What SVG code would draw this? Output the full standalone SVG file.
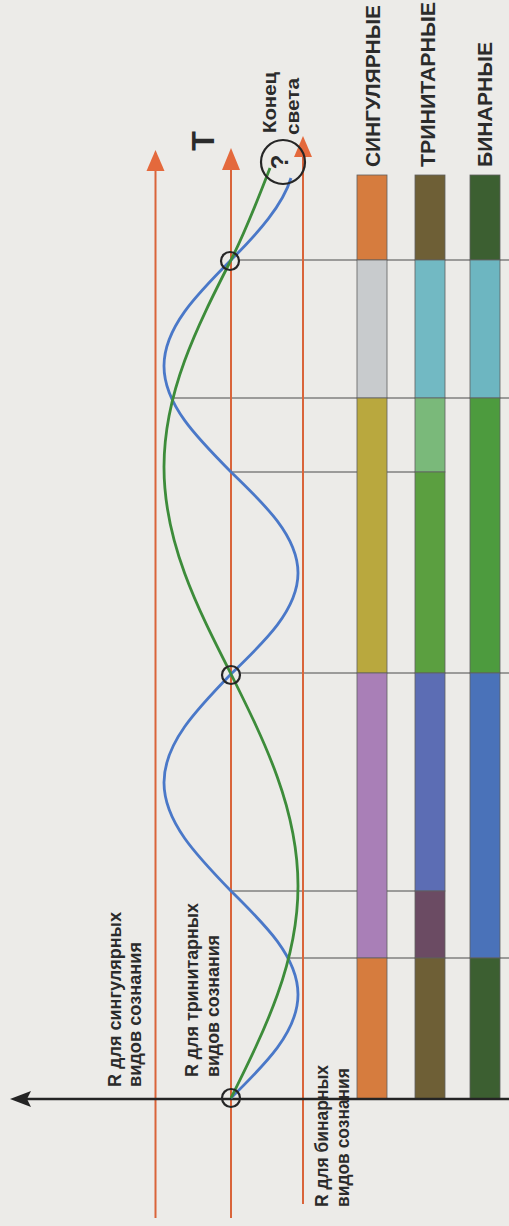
<svg xmlns="http://www.w3.org/2000/svg" width="509" height="1226" viewBox="0 0 509 1226">
<defs>
<style>
.lbl{font-family:"Liberation Sans",Arial,sans-serif;font-weight:bold;fill:#2b2b2b}
.rl{stroke:#d9643a;stroke-width:2;fill:none}
.ah{fill:#e4693c}
.div{stroke:#4a4a4a;stroke-width:1;fill:none}
.seg{stroke:#5f5f5f;stroke-width:0.8}
.ring{fill:none;stroke:#262626;stroke-width:2.2}
</style>
</defs>
<rect x="0" y="0" width="509" height="1226" fill="#ecebe8"/>

<g id="dividers">
<path class="div" d="M239 260H509M172 398H509M232 472H445M240 673H509M232 891H445M290 958H509"/>
</g>

<g id="r-lines">
<path class="rl" d="M155.5 165V1218" stroke="#d97a30"/>
<path class="rl" d="M231 165V1218"/>
<path class="rl" d="M303 152V1204" stroke="#dc6a34"/>
<polygon class="ah" points="155.5,150 146.5,171 164.5,171"/>
<polygon class="ah" points="231,148 222,170 240,170"/>
<polygon class="ah" points="303,136 294,157 312,157"/>
</g>

<g id="bar-singular">
<rect class="seg" x="357" y="175" width="30" height="85" fill="#d67c3e"/>
<rect class="seg" x="357" y="260" width="30" height="138" fill="#c8cbcd"/>
<rect class="seg" x="357" y="398" width="30" height="275" fill="#b9a83e"/>
<rect class="seg" x="357" y="673" width="30" height="285" fill="#a97fb7"/>
<rect class="seg" x="357" y="958" width="30" height="141" fill="#d67c3e"/>
</g>
<g id="bar-trinitarian">
<rect class="seg" x="415" y="175" width="30" height="85" fill="#6e5f36"/>
<rect class="seg" x="415" y="260" width="30" height="138" fill="#72b9c3"/>
<rect class="seg" x="415" y="398" width="30" height="74" fill="#7ab97a"/>
<rect class="seg" x="415" y="472" width="30" height="201" fill="#5b9f40"/>
<rect class="seg" x="415" y="673" width="30" height="218" fill="#5c6db4"/>
<rect class="seg" x="415" y="891" width="30" height="67" fill="#6b4b63"/>
<rect class="seg" x="415" y="958" width="30" height="141" fill="#6e5f36"/>
</g>
<g id="bar-binary">
<rect class="seg" x="470" y="175" width="30" height="85" fill="#3c5f31"/>
<rect class="seg" x="470" y="260" width="30" height="138" fill="#6db6c1"/>
<rect class="seg" x="470" y="398" width="30" height="275" fill="#4d9b3e"/>
<rect class="seg" x="470" y="673" width="30" height="285" fill="#4a72b9"/>
<rect class="seg" x="470" y="958" width="30" height="141" fill="#3c5f31"/>
</g>

<g id="axis">
<path d="M26 1099H509" stroke="#242424" stroke-width="2.6" fill="none"/>
<polygon points="10,1099 31,1091 27,1099 31,1107" fill="#242424"/>
</g>

<g id="curves">
<path id="blue-curve" fill="none" stroke="#4a78c8" stroke-width="2.8" d="M231 1098C265.3 1064.25 298 1031.96 298 994.5C298 957.04 265.3 924.75 231 891C196.7 855.62 164 821.77 164 782.5C164 743.23 196.7 709.38 231 674C265.3 641.06 298 609.55 298 573C298 536.45 265.3 504.94 231 472C196.7 437.43 164 404.36 164 366C164 327.64 196.7 294.57 231 260C258.8 232.3 282.9 204.7 291 178"/>
<path id="green-curve" fill="none" stroke="#3d8c3a" stroke-width="2.8" d="M231 1098C265.3 1028.87 298 962.72 298 886C298 809.28 265.3 743.13 231 674C196.7 606.5 164 541.91 164 467C164 392.09 196.7 327.5 231 260C246.6 229.3 258.1 198.7 270 168"/>
</g>

<g id="markers">
<circle class="ring" cx="231" cy="1098" r="9"/>
<circle class="ring" cx="231" cy="675" r="9"/>
<circle class="ring" cx="230" cy="261" r="9"/>
<circle class="ring" cx="283" cy="162" r="22" stroke-width="2.4"/>
<text class="lbl" font-size="24" text-anchor="middle" transform="translate(288,162) rotate(-90)">?</text>
</g>

<g id="labels">
<text class="lbl" font-size="32" text-anchor="middle" transform="translate(214,141) rotate(-90)">T</text>
<text class="lbl" font-size="19" transform="translate(276,133) rotate(-90)" textLength="61" lengthAdjust="spacingAndGlyphs">Конец</text>
<text class="lbl" font-size="19" transform="translate(299,135) rotate(-90)" textLength="57" lengthAdjust="spacingAndGlyphs">света</text>
<text class="lbl" font-size="21" transform="translate(380,167) rotate(-90)" textLength="162" lengthAdjust="spacingAndGlyphs">СИНГУЛЯРНЫЕ</text>
<text class="lbl" font-size="21" transform="translate(435,167) rotate(-90)" textLength="165" lengthAdjust="spacingAndGlyphs">ТРИНИТАРНЫЕ</text>
<text class="lbl" font-size="21" transform="translate(492,167) rotate(-90)" textLength="125" lengthAdjust="spacingAndGlyphs">БИНАРНЫЕ</text>
<text class="lbl" font-size="18" transform="translate(121,1087) rotate(-90)" textLength="175" lengthAdjust="spacingAndGlyphs">R для сингулярных</text>
<text class="lbl" font-size="18" transform="translate(141,1087) rotate(-90)" textLength="145" lengthAdjust="spacingAndGlyphs">видов сознания</text>
<text class="lbl" font-size="18" transform="translate(198,1077) rotate(-90)" textLength="174" lengthAdjust="spacingAndGlyphs">R для тринитарных</text>
<text class="lbl" font-size="18" transform="translate(219,1077) rotate(-90)" textLength="142" lengthAdjust="spacingAndGlyphs">видов сознания</text>
<text class="lbl" font-size="18" transform="translate(328,1207) rotate(-90)" textLength="142" lengthAdjust="spacingAndGlyphs">R для бинарных</text>
<text class="lbl" font-size="18" transform="translate(349,1207) rotate(-90)" textLength="139" lengthAdjust="spacingAndGlyphs">видов сознания</text>
</g>
</svg>
